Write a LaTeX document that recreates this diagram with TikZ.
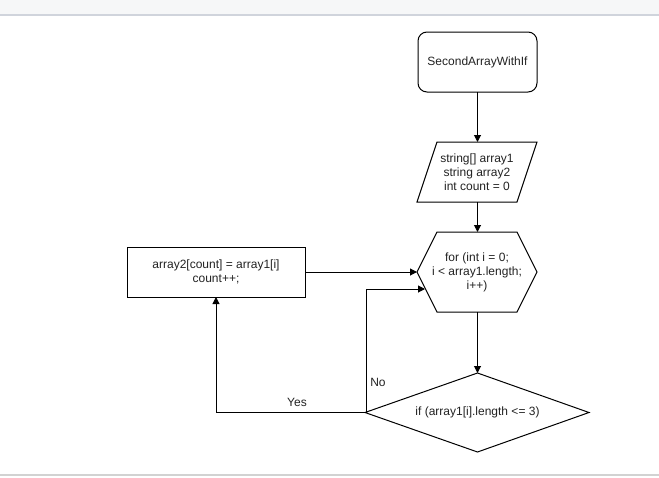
\documentclass[tikz,border=0pt]{standalone}
\usepackage{fontspec}
\setmainfont{Liberation Sans}
\usetikzlibrary{arrows.meta,shapes.geometric,calc}
\definecolor{txt}{HTML}{222222}
\tikzset{
  every node/.style={font=\fontsize{12}{14}\selectfont, text=txt, align=center},
  flowline/.style={line width=1pt, draw=black, -{Triangle[length=7pt,width=7pt]}},
  plainline/.style={line width=1pt, draw=black},
  shapeline/.style={line width=1pt, draw=black},
  lbl/.style={font=\fontsize{12}{14}\selectfont, text=txt}
}
\begin{document}
\begin{tikzpicture}[x=1pt,y=-1pt]
\useasboundingbox (0,0) rectangle (659,477);
% page chrome
\fill[fill={rgb,255:red,246;green,247;blue,248}] (0,0) rectangle (659,15);
\draw[draw={rgb,255:red,208;green,212;blue,220}, line width=1.2pt] (0,15) -- (659,15);
\draw[draw={rgb,255:red,210;green,210;blue,210}, line width=1.2pt] (0,475) -- (659,475);

% start
\draw[shapeline, rounded corners=9pt] (418,32) rectangle (537,92);
\node (start) at (477.5,62) {SecondArrayWithIf};
\coordinate (startB) at (477.5,92);

% parallelogram input
\draw[shapeline] (437,142) -- (537,142) -- (517,202) -- (417,202) -- cycle;
\node (input) at (477,172) {string[] array1\\string array2\\int count = 0};
\coordinate (inputT) at (477.5,142);
\coordinate (inputB) at (477.5,202);

% hexagon loop
\draw[shapeline] (437,232) -- (517,232) -- (537,272) -- (517,312) -- (437,312) -- (417,272) -- cycle;
\node (loop) at (477,272) {for (int i = 0;\\i < array1.length;\\i++)};
\coordinate (loopT) at (477.5,232);
\coordinate (loopB) at (477.5,312);
\coordinate (loopL) at (417,272);
\coordinate (loopL2) at (425,289);

% decision diamond
\draw[shapeline] (477.5,373) -- (589,412.5) -- (477.5,452) -- (365,412.5) -- cycle;
\node (cond) at (477.5,412.5) {if (array1[i].length <= 3)};
\coordinate (condT) at (477.5,373);
\coordinate (condL) at (365,412.5);

% process box
\draw[shapeline] (127,247) rectangle (305,297);
\node (proc) at (216,272) {array2[count] = array1[i]\\count++;};
\coordinate (procR) at (305,272);
\coordinate (procB) at (216,297);

% connectors
\draw[flowline] (startB) -- (inputT);
\draw[flowline] (inputB) -- (loopT);
\draw[flowline] (loopB) -- (condT);
\draw[flowline] (procR) -- (loopL);
\draw[flowline] (condL) -- (366,412.5) -- (366,289) -- (loopL2);
\draw[flowline] (condL) -- (216,412.5) -- (procB);

% labels
\node[lbl] (yes) at (297,402) {Yes};
\node[lbl] (no) at (378,382) {No};
\end{tikzpicture}
\end{document}
